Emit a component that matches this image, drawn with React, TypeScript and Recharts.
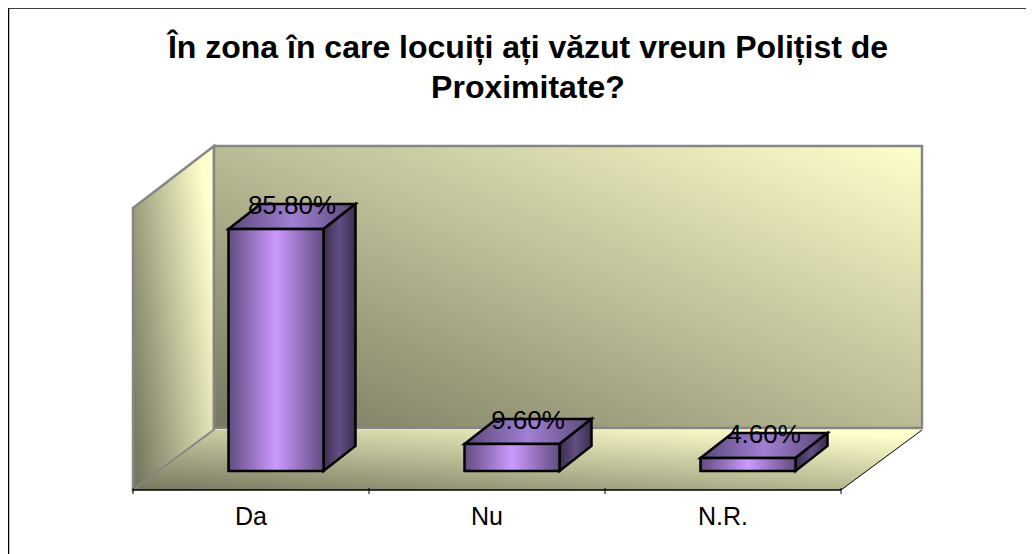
import React from "react";
import { BarChart, Bar, XAxis, YAxis, LabelList, usePlotArea } from "recharts";

const categories = ["Da", "Nu", "N.R."];
const shares = [85.8, 9.6, 4.6];
const labels = ["85.80%", "9.60%", "4.60%"];
const titleLines = ["În zona în care locuiți ați văzut vreun Polițist de", "Proximitate?"];
const rows = categories.map((name, i) => ({ name, share: shares[i], label: labels[i] }));

const WIDTH = 1026;
const HEIGHT = 546;
const FONT = '"Liberation Sans", Arial, sans-serif';
const MARGIN = { top: 200, right: 193, bottom: 0, left: 125 };
const WALL_DX = 81;
const WALL_DY = 61;
const BAR_DX = 32;
const BAR_DY = 25;
const BAR_SHIFT_X = 24.5;
const BAR_SHIFT_Y = 19;
const pts = (a: number[][]) => a.map((p) => p.join(",")).join(" ");

function Defs() {
  return (
    <defs>
      <linearGradient id="back" x1="0" y1="1" x2="1" y2="0">
        <stop offset="0" stopColor="#77775f" />
        <stop offset="1" stopColor="#ffffcc" />
      </linearGradient>
      <linearGradient id="left" x1="0" y1="0.85" x2="1" y2="0.35">
        <stop offset="0" stopColor="#77775f" />
        <stop offset="1" stopColor="#ffffcc" />
      </linearGradient>
      <linearGradient id="floor" x1="0" y1="1" x2="0.85" y2="0">
        <stop offset="0" stopColor="#77775f" />
        <stop offset="1" stopColor="#ffffcc" />
      </linearGradient>
      <linearGradient id="front" x1="0" y1="0" x2="1" y2="0">
        <stop offset="0" stopColor="#604c80" />
        <stop offset="0.5" stopColor="#cc99ff" />
        <stop offset="1" stopColor="#604c80" />
      </linearGradient>
      <linearGradient id="top" x1="0" y1="0" x2="1" y2="0">
        <stop offset="0" stopColor="#5a4778" />
        <stop offset="0.5" stopColor="#a07fd4" />
        <stop offset="1" stopColor="#5a4778" />
      </linearGradient>
      <linearGradient id="side" x1="0" y1="0" x2="1" y2="0">
        <stop offset="0" stopColor="#3a2e4e" />
        <stop offset="0.5" stopColor="#624d84" />
        <stop offset="1" stopColor="#3a2e4e" />
      </linearGradient>
    </defs>
  );
}

function Walls() {
  const area = usePlotArea();
  if (!area) return null;
  const { x, y, width, height } = area;
  const r = x + width;
  const b = y + height;
  return (
    <g>
      <polygon points={pts([[x, y], [x + WALL_DX, y - WALL_DY - 1], [x + WALL_DX, b - WALL_DY + 1], [x, b]])} fill="url(#left)" stroke="#868686" strokeWidth={2.5} />
      <polygon points={pts([[x, b], [x + WALL_DX, b - WALL_DY + 1], [r + WALL_DX, b - WALL_DY + 1], [r, b]])} fill="url(#floor)" stroke="none" />
      <rect x={x + WALL_DX} y={y - WALL_DY - 1} width={width} height={height} fill="url(#back)" stroke="#868686" strokeWidth={2.5} />
      <line x1={x} y1={b} x2={x + WALL_DX} y2={b - WALL_DY + 1} stroke="#868686" strokeWidth={1.5} />
      <line x1={r} y1={b} x2={r + WALL_DX} y2={b - WALL_DY + 1} stroke="#000" strokeWidth={1} />
    </g>
  );
}

function Bar3D(props: any) {
  const { x, y, width, height } = props;
  const l = x + BAR_SHIFT_X;
  const t = y - BAR_SHIFT_Y;
  const r = l + width;
  const b = t + height;
  return (
    <g stroke="#000" strokeWidth={2.5} strokeLinejoin="miter">
      <polygon points={pts([[l, t], [r, t], [r + BAR_DX, t - BAR_DY], [l + BAR_DX, t - BAR_DY]])} fill="url(#top)" />
      <polygon points={pts([[r, t], [r + BAR_DX, t - BAR_DY], [r + BAR_DX, b - BAR_DY], [r, b]])} fill="url(#side)" />
      <rect x={l} y={t} width={width} height={height} fill="url(#front)" />
    </g>
  );
}

function BarLabel(props: any) {
  const { x, y, width, value } = props;
  return (
    <text x={x + BAR_SHIFT_X + width / 2 + BAR_DX / 2} y={y - BAR_SHIFT_Y - 15} textAnchor="middle" fontFamily={FONT} fontSize={26} fill="#000">
      {value}
    </text>
  );
}

function AxisTick(props: any) {
  const { x, y, payload, index } = props;
  const band = (WIDTH - MARGIN.left - MARGIN.right) / categories.length;
  const last = index === categories.length - 1;
  return (
    <g>
      <line x1={x - band / 2} x2={x - band / 2} y1={y - 8} y2={y - 2} stroke="#000" />
      {last && <line x1={x + band / 2} x2={x + band / 2} y1={y - 8} y2={y - 2} stroke="#000" />}
      <text x={x} y={y + 29} textAnchor="middle" fontFamily={FONT} fontSize={25} fill="#000">
        {payload.value}
      </text>
    </g>
  );
}

export default function App() {
  return (
    <BarChart width={WIDTH} height={HEIGHT} data={rows} margin={MARGIN} barSize={95}>
      <Defs />
      <line x1={0.5} y1={0} x2={0.5} y2={HEIGHT} stroke="#000" strokeWidth={1.5} />
      <line x1={0} y1={0} x2={WIDTH} y2={0} stroke="#000" strokeWidth={1.5} />
      <text textAnchor="middle" fontFamily={FONT} fontWeight="bold" fontSize={32} fill="#000">
        {titleLines.map((line, i) => (
          <tspan key={line} x={520} y={50 + i * 40}>{line}</tspan>
        ))}
      </text>
      <Walls />
      <XAxis dataKey="name" tickLine={false} axisLine={{ stroke: "#000", strokeWidth: 1.5 }} tick={<AxisTick />} interval={0} tickMargin={0} height={64} />
      <YAxis hide domain={[0, 100]} />
      <Bar dataKey="share" isAnimationActive={false} shape={<Bar3D />}>
        <LabelList dataKey="label" content={<BarLabel />} />
      </Bar>
    </BarChart>
  );
}
